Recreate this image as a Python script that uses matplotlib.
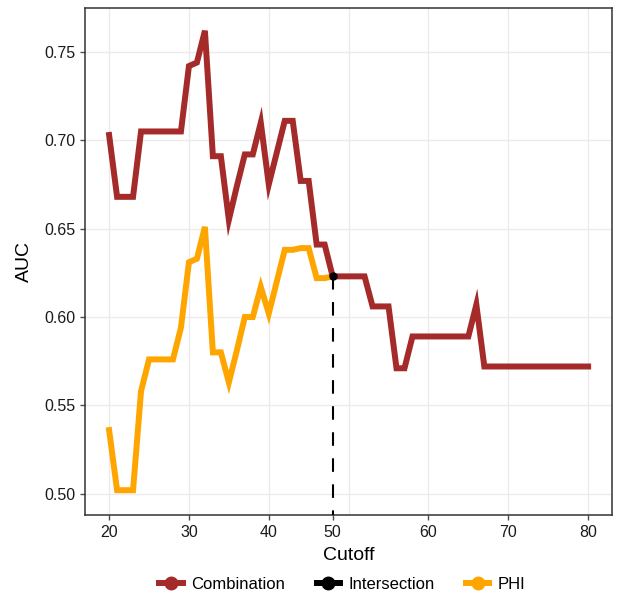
import matplotlib
matplotlib.use("Agg")
import matplotlib.pyplot as plt
from matplotlib.lines import Line2D

plt.rcParams['font.family'] = ['Liberation Sans', 'DejaVu Sans']

# data
cutoff = list(range(20, 81))
combination = [0.703, 0.668, 0.668, 0.668, 0.705, 0.705, 0.705, 0.705, 0.705, 0.705,
               0.742, 0.744, 0.762, 0.691, 0.691, 0.655, 0.674, 0.692, 0.692, 0.710,
               0.675, 0.693, 0.711, 0.711, 0.677, 0.677, 0.641, 0.641, 0.623, 0.623,
               0.623, 0.623, 0.623, 0.606, 0.606, 0.606, 0.571, 0.571, 0.589, 0.589,
               0.589, 0.589, 0.589, 0.589, 0.589, 0.589, 0.607, 0.572, 0.572, 0.572,
               0.572, 0.572, 0.572, 0.572, 0.572, 0.572, 0.572, 0.572, 0.572, 0.572,
               0.572]
phi_cutoff = list(range(20, 49))
phi = [0.536, 0.502, 0.502, 0.502, 0.558, 0.576, 0.576, 0.576, 0.576, 0.594,
       0.631, 0.633, 0.651, 0.580, 0.580, 0.563, 0.581, 0.600, 0.600, 0.617,
       0.602, 0.620, 0.638, 0.638, 0.639, 0.639, 0.622, 0.622, 0.623]
intersect_x = 48
intersect_y = 0.623

xticks = [20, 30, 40, 48, 60, 70, 80]
xtick_labels = ["20", "30", "40", "50", "60", "70", "80"]
yticks = [0.50, 0.55, 0.60, 0.65, 0.70, 0.75]

col_comb = '#A52A2A'
col_phi = '#FFA500'

fig = plt.figure(figsize=(6.17, 5.96), dpi=100)
ax = fig.add_axes([0.138, 0.136, 0.854, 0.851])

# grid
for g in range(20, 81, 10):
    ax.axvline(g, color='#EBEBEB', lw=1.0, zorder=0)
for g in yticks:
    ax.axhline(g, color='#EBEBEB', lw=1.0, zorder=0)

ax.plot(phi_cutoff, phi, color=col_phi, lw=4.3, solid_joinstyle='miter', zorder=2)
ax.plot(cutoff, combination, color=col_comb, lw=4.3, solid_joinstyle='miter', zorder=3)
ax.plot([intersect_x, intersect_x], [intersect_y, 0.47], color='black', lw=1.5,
        dashes=(6.5, 6.0), zorder=4)
ax.plot([intersect_x], [intersect_y], 'o', color='black', ms=5, zorder=5)

ax.set_xlim(17, 83)
ax.set_ylim(0.488, 0.775)
ax.set_xticks(xticks)
ax.set_xticklabels(xtick_labels)
ax.set_yticks(yticks)
ax.set_yticklabels(["%.2f" % v for v in yticks])
ax.tick_params(labelsize=11.5, colors='#4D4D4D', length=3.5, width=1.0, labelcolor='#1A1A1A')
for s in ax.spines.values():
    s.set_color('#333333')
    s.set_linewidth(1.1)

ax.set_xlabel("Cutoff", fontsize=14, labelpad=5)
ax.set_ylabel("AUC", fontsize=14, labelpad=8)

handles = [
    Line2D([], [], color=col_comb, lw=4.3, marker='o', ms=9),
    Line2D([], [], color='black', lw=4.3, marker='o', ms=9),
    Line2D([], [], color=col_phi, lw=4.3, marker='o', ms=9),
]
fig.legend(handles, ["Combination", "Intersection", "PHI"], loc='lower center',
           bbox_to_anchor=(0.555, -0.018), ncol=3, frameon=False, fontsize=12,
           handlelength=1.4, columnspacing=1.9, handletextpad=0.5)

fig.savefig("out.png", dpi=100)
